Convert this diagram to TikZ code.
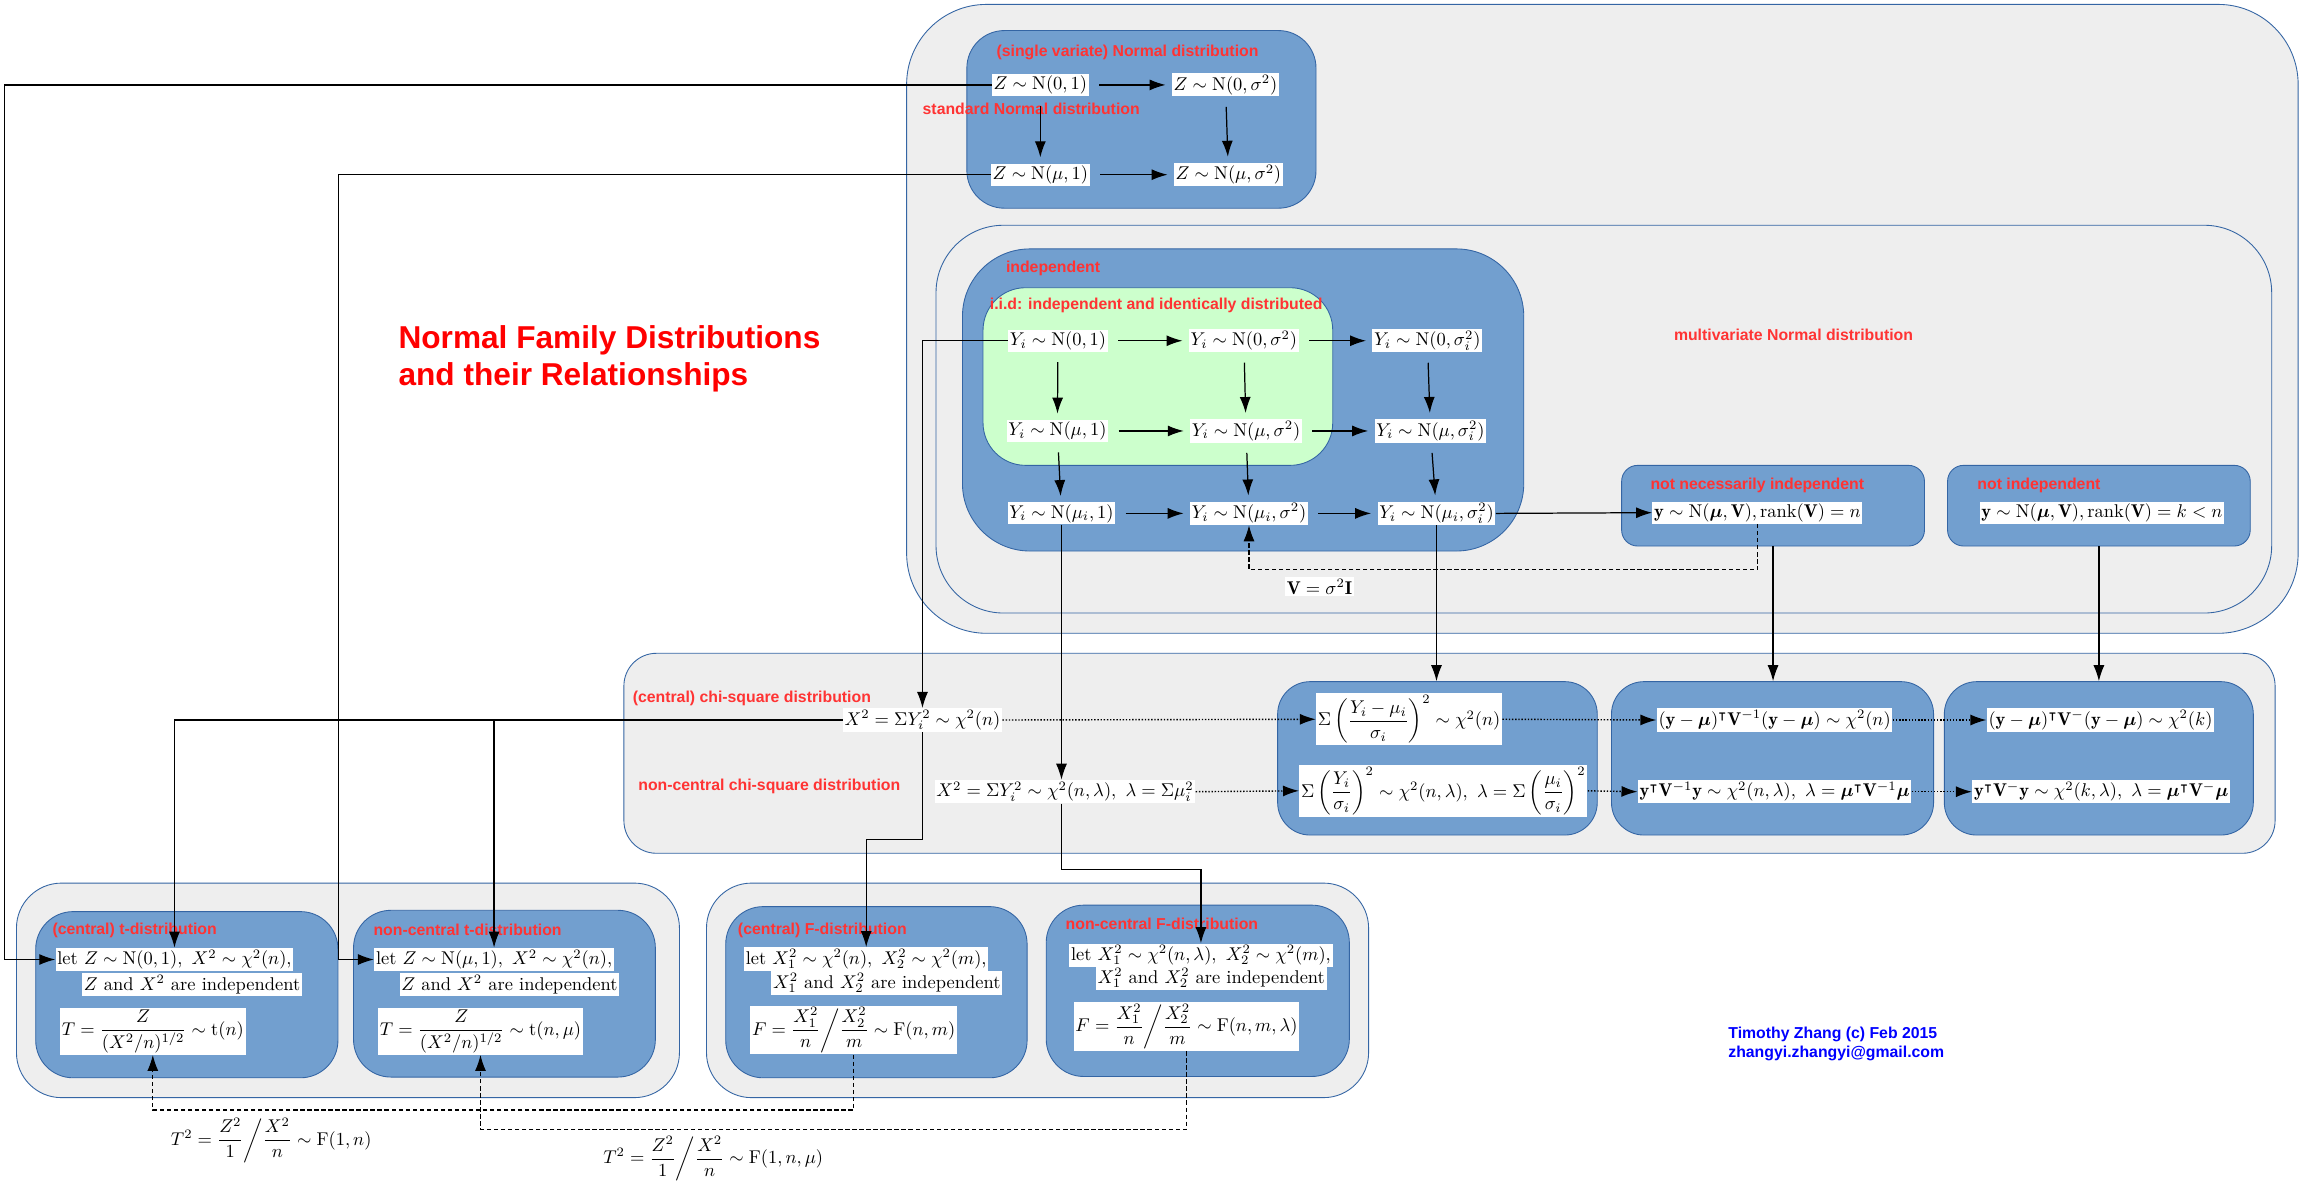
\RequirePackage{fix-cm}
\documentclass[tikz,border=0pt]{standalone}
\usepackage{amsmath,amssymb}
\usepackage{fontspec}
\newfontfamily\labfont{Liberation Sans}
\usetikzlibrary{arrows.meta,fit}
\definecolor{gfill}{HTML}{EEEEEE}
\definecolor{bord}{HTML}{3465A4}
\definecolor{bfill}{HTML}{729FCF}
\definecolor{iidfill}{HTML}{CCFFCC}
\definecolor{labred}{HTML}{FF3333}
\definecolor{titred}{HTML}{FF0000}
\definecolor{auth}{HTML}{0000FF}
\begin{document}
\begin{tikzpicture}[x=0.029388cm,y=-0.029388cm,
 grp/.style={draw=bord, fill=gfill, line width=0.5pt, inner sep=0pt},
 blu/.style={draw=bord, fill=bfill, line width=0.5pt, inner sep=0pt},
 lab/.style={text=labred, font={\labfont\bfseries\fontsize{9}{11}\selectfont}, anchor=west, inner sep=0pt},
 m/.style={fill=white, inner sep=1pt, font={\fontsize{10.5}{12.5}\selectfont}},
 conn/.style={line width=0.7pt, -{Latex[length=0.32cm,width=0.22cm]}},
 garrow/.style={conn, shorten <=0.2cm, shorten >=0.12cm},
 dotarrow/.style={line width=0.8pt, densely dotted, -{Latex[length=0.32cm,width=0.22cm]}},
 dasharrow/.style={line width=0.6pt, dash pattern=on 2.5pt off 1.5pt, -{Latex[length=0.32cm,width=0.22cm]}}
]
\useasboundingbox (0,0) rectangle (1568,816.6);
\fill[white] (0,0) rectangle (1568,816.6);

% ---------- containers ----------
\node[grp, rounded corners=1.6cm, fit={(617,3) (1564,431)}] (topgrp) {};
\node[grp, rounded corners=1.35cm, fit={(637,153.3) (1546,417.2)}] (mvgrp) {};
\node[blu, rounded corners=0.75cm, fit={(658,20.8) (895.6,141.7)}] (svbox) {};
\node[blu, rounded corners=1.35cm, fit={(655,169.4) (1037,375)}] (indbox) {};
\node[draw=bord, fill=iidfill, line width=0.5pt, inner sep=0pt, rounded corners=0.85cm, fit={(669,195.8) (907,316.7)}] (iidbox) {};
\node[blu, rounded corners=0.32cm, fit={(1103.6,316.7) (1309.7,371.6)}] (nnbox) {};
\node[blu, rounded corners=0.32cm, fit={(1325.4,316.7) (1531.4,371.6)}] (nibox) {};
\node[grp, rounded corners=0.65cm, fit={(424.6,444.6) (1548.3,580.7)}] (chigrp) {};
\node[blu, rounded corners=0.65cm, fit={(869.5,463.9) (1087,568.3)}] (cb1) {};
\node[blu, rounded corners=0.65cm, fit={(1096.7,463.9) (1315.9,568.3)}] (cb2) {};
\node[blu, rounded corners=0.65cm, fit={(1323.2,463.9) (1533.5,568.3)}] (cb3) {};
\node[grp, rounded corners=0.9cm, fit={(11.2,601) (462.4,747)}] (tgrp) {};
\node[blu, rounded corners=0.75cm, fit={(24.3,620.4) (230,733.5)}] (tcbox) {};
\node[blu, rounded corners=0.75cm, fit={(240.6,619.5) (446,733)}] (tnbox) {};
\node[grp, rounded corners=0.9cm, fit={(480.8,601) (931.4,747)}] (fgrp) {};
\node[blu, rounded corners=0.75cm, fit={(493.9,617) (699,733.5)}] (fcbox) {};
\node[blu, rounded corners=0.75cm, fit={(712,616) (918.3,732.6)}] (fnbox) {};

% ---------- labels ----------
\node[lab] (lsv) at (678,35.5) {(single variate) Normal distribution};
\node[lab] (lstd) at (627.7,73.9) {standard Normal distribution};
\node[lab] (lind) at (684.4,182.8) {independent};
\node[lab] (liid) at (673.4,207.8) {i.i.d: independent and identically distributed};
\node[lab] (lmv) at (1139,227.8) {multivariate Normal distribution};
\node[lab] (lnn) at (1123,330.5) {not necessarily independent};
\node[lab] (lni) at (1345.5,330.5) {not independent};
\node[lab] (lcc) at (430.4,475.3) {(central) chi-square distribution};
\node[lab] (lnc) at (434.2,534.9) {non-central chi-square distribution};
\node[lab] (ltc) at (35.5,633) {(central) t-distribution};
\node[lab] (ltn) at (254,633) {non-central t-distribution};
\node[lab] (lfc) at (502,633) {(central) F-distribution};
\node[lab] (lfn) at (725,629) {non-central F-distribution};

\node[text=titred, font={\labfont\bfseries\fontsize{18}{21}\selectfont}, anchor=west, align=left, inner sep=0pt] (title) at (271,244.5) {Normal Family Distributions\\and their Relationships};
\node[text=auth, font={\labfont\bfseries\fontsize{9}{10.8}\selectfont}, anchor=west, align=left, inner sep=0pt] (author) at (1176,710.5) {Timothy Zhang (c) Feb 2015\\zhangyi.zhangyi@gmail.com};

% ---------- math nodes ----------
\node[m] (z01) at (708,57.8) {$Z\sim\mathrm{N}(0,1)$};
\node[m] (z0s) at (834,57.8) {$Z\sim\mathrm{N}(0,\sigma^2)$};
\node[m] (zm1) at (708,118.9) {$Z\sim\mathrm{N}(\mu,1)$};
\node[m] (zms) at (836,118.9) {$Z\sim\mathrm{N}(\mu,\sigma^2)$};

\node[m] (y01) at (720,231.9) {$Y_i\sim\mathrm{N}(0,1)$};
\node[m] (y0s) at (846.5,231.9) {$Y_i\sim\mathrm{N}(0,\sigma^2)$};
\node[m] (y0si) at (971.4,231.9) {$Y_i\sim\mathrm{N}(0,\sigma_i^2)$};
\node[m] (ym1) at (719.6,293.3) {$Y_i\sim\mathrm{N}(\mu,1)$};
\node[m] (yms) at (848,293.3) {$Y_i\sim\mathrm{N}(\mu,\sigma^2)$};
\node[m] (ymsi) at (973.5,293.3) {$Y_i\sim\mathrm{N}(\mu,\sigma_i^2)$};
\node[m] (ymi1) at (722.4,349.4) {$Y_i\sim\mathrm{N}(\mu_i,1)$};
\node[m] (ymis) at (850,349.4) {$Y_i\sim\mathrm{N}(\mu_i,\sigma^2)$};
\node[m] (ymisi) at (977.6,349.4) {$Y_i\sim\mathrm{N}(\mu_i,\sigma_i^2)$};

\node[m] (nnn) at (1196,348.9) {$\mathbf{y}\sim\mathrm{N}(\boldsymbol{\mu},\mathbf{V}),\mathrm{rank}(\mathbf{V})=n$};
\node[m] (nin) at (1430.5,348.9) {$\mathbf{y}\sim\mathrm{N}(\boldsymbol{\mu},\mathbf{V}),\mathrm{rank}(\mathbf{V})=k<n$};
\node[m] (vnode) at (898,399.2) {$\mathbf{V}=\sigma^2\mathbf{I}$};

\node[m] (x2c) at (627.8,490) {$X^2=\Sigma Y_i^2\sim\chi^2(n)$};
\node[m] (x2nc) at (724.8,538.8) {$X^2=\Sigma Y_i^2\sim\chi^2(n,\lambda),\ \lambda=\Sigma\mu_i^2$};
\node[m] (n1a) at (959,489.5) {$\Sigma\left(\dfrac{Y_i-\mu_i}{\sigma_i}\right)^{2}\sim\chi^2(n)$};
\node[m] (n1b) at (982.3,538.2) {$\Sigma\left(\dfrac{Y_i}{\sigma_i}\right)^{2}\sim\chi^2(n,\lambda),\ \lambda=\Sigma\left(\dfrac{\mu_i}{\sigma_i}\right)^{2}$};
\node[m] (n2a) at (1207.7,490) {$(\mathbf{y}-\boldsymbol{\mu})^{\intercal}\mathbf{V}^{-1}(\mathbf{y}-\boldsymbol{\mu})\sim\chi^2(n)$};
\node[m] (n2b) at (1207.7,538.8) {$\mathbf{y}^{\intercal}\mathbf{V}^{-1}\mathbf{y}\sim\chi^2(n,\lambda),\ \lambda=\boldsymbol{\mu}^{\intercal}\mathbf{V}^{-1}\boldsymbol{\mu}$};
\node[m] (n3a) at (1429.5,490) {$(\mathbf{y}-\boldsymbol{\mu})^{\intercal}\mathbf{V}^{-}(\mathbf{y}-\boldsymbol{\mu})\sim\chi^2(k)$};
\node[m] (n3b) at (1430,538.8) {$\mathbf{y}^{\intercal}\mathbf{V}^{-}\mathbf{y}\sim\chi^2(k,\lambda),\ \lambda=\boldsymbol{\mu}^{\intercal}\mathbf{V}^{-}\boldsymbol{\mu}$};

\node[m] (tcl1) at (118.75,653) {let $Z\sim\mathrm{N}(0,1),\ X^2\sim\chi^2(n)$,};
\node[m] (tcl2) at (130.7,670) {$Z$ and $X^2$ are independent};
\node[m] (tcf) at (104,702) {$T=\dfrac{Z}{(X^2/n)^{1/2}}\sim\mathrm{t}(n)$};
\node[m] (tncl1) at (336.25,653) {let $Z\sim\mathrm{N}(\mu,1),\ X^2\sim\chi^2(n)$,};
\node[m] (tncl2) at (346.7,670) {$Z$ and $X^2$ are independent};
\node[m] (tncf) at (327,702) {$T=\dfrac{Z}{(X^2/n)^{1/2}}\sim\mathrm{t}(n,\mu)$};
\node[m] (fcl1) at (589.5,652.6) {let $X_1^2\sim\chi^2(n),\ X_2^2\sim\chi^2(m)$,};
\node[m] (fcl2) at (603.5,669) {$X_1^2$ and $X_2^2$ are independent};
\node[m] (fcf) at (581,701) {$F=\dfrac{X_1^2}{n}\bigg/\dfrac{X_2^2}{m}\sim\mathrm{F}(n,m)$};
\node[m] (fncl1) at (817.3,650) {let $X_1^2\sim\chi^2(n,\lambda),\ X_2^2\sim\chi^2(m)$,};
\node[m] (fncl2) at (824.3,665.6) {$X_1^2$ and $X_2^2$ are independent};
\node[m] (fncf) at (807.5,698.7) {$F=\dfrac{X_1^2}{n}\bigg/\dfrac{X_2^2}{m}\sim\mathrm{F}(n,m,\lambda)$};

\node[m] (t2a) at (184.6,776) {$T^2=\dfrac{Z^2}{1}\bigg/\dfrac{X^2}{n}\sim\mathrm{F}(1,n)$};
\node[m] (t2b) at (485.4,788.5) {$T^2=\dfrac{Z^2}{1}\bigg/\dfrac{X^2}{n}\sim\mathrm{F}(1,n,\mu)$};

% ---------- helper coordinates ----------
\coordinate (rl1) at (3,0);
\coordinate (rl2) at (230.3,0);
\coordinate (ra) at (0,571.2);
\coordinate (rb) at (0,591.5);
\coordinate (rv) at (0,387.8);
\coordinate (rt1) at (0,755.4);
\coordinate (rt2) at (0,768.4);

% ---------- connectors ----------
\draw[garrow] (z01) -- (z0s);
\draw[garrow] (zm1) -- (zms);
\draw[garrow] (z01) -- (zm1);
\draw[garrow] (z0s) -- (zms);

\draw[garrow] (y01) -- (y0s);
\draw[garrow] (y0s) -- (y0si);
\draw[garrow] (ym1) -- (yms);
\draw[garrow] (yms) -- (ymsi);
\draw[garrow] (ymi1) -- (ymis);
\draw[garrow] (ymis) -- (ymisi);
\draw[garrow] (y01) -- (ym1);
\draw[garrow] (ym1) -- (ymi1);
\draw[garrow] (y0s) -- (yms);
\draw[garrow] (yms) -- (ymis);
\draw[garrow] (y0si) -- (ymsi);
\draw[garrow] (ymsi) -- (ymisi);

\draw[conn] (ymisi.east) -- (nnn.west);
\draw[conn] (ymisi.south) -- (ymisi.south |- cb1.north);
\draw[conn] (nnbox.south) -- (nnbox.south |- cb2.north);
\draw[conn] (nibox.south) -- (nibox.south |- cb3.north);

\draw[conn] (z01.west) -- (z01.west -| rl1) |- (tcl1.west);
\draw[conn] (zm1.west) -- (zm1.west -| rl2) |- (tncl1.west);
\draw[conn] (y01.west) -| (x2c.north);
\draw[conn] (x2c.west) -| (tcl1.north);
\draw[conn] (x2c.west -| tncl1.north) -- (tncl1.north);
\draw[conn] (x2c.south) |- (fcl1.north |- ra) -- (fcl1.north);
\draw[conn] (ymi1.south) -- (ymi1.south |- x2nc.north);
\draw[conn] (ymi1.south |- x2nc.south) |- (fncl1.north |- rb) -- (fncl1.north);

\draw[dotarrow] (x2c.east) -- (n1a.west);
\draw[dotarrow] (n1a.east) -- (n2a.west);
\draw[dotarrow] (n2a.east) -- (n3a.west);
\draw[dotarrow] (x2nc.east) -- (n1b.west);
\draw[dotarrow] (n1b.east) -- (n2b.west);
\draw[dotarrow] (n2b.east) -- (n3b.west);

\draw[dasharrow] (nnn.south) |- (ymis.south |- rv) -- (ymis.south);
\draw[dasharrow] (fcf.south) |- (tcf.south |- rt1) -- (tcf.south);
\draw[dasharrow] (fncf.south) |- (tncf.south |- rt2) -- (tncf.south);
\end{tikzpicture}
\end{document}
